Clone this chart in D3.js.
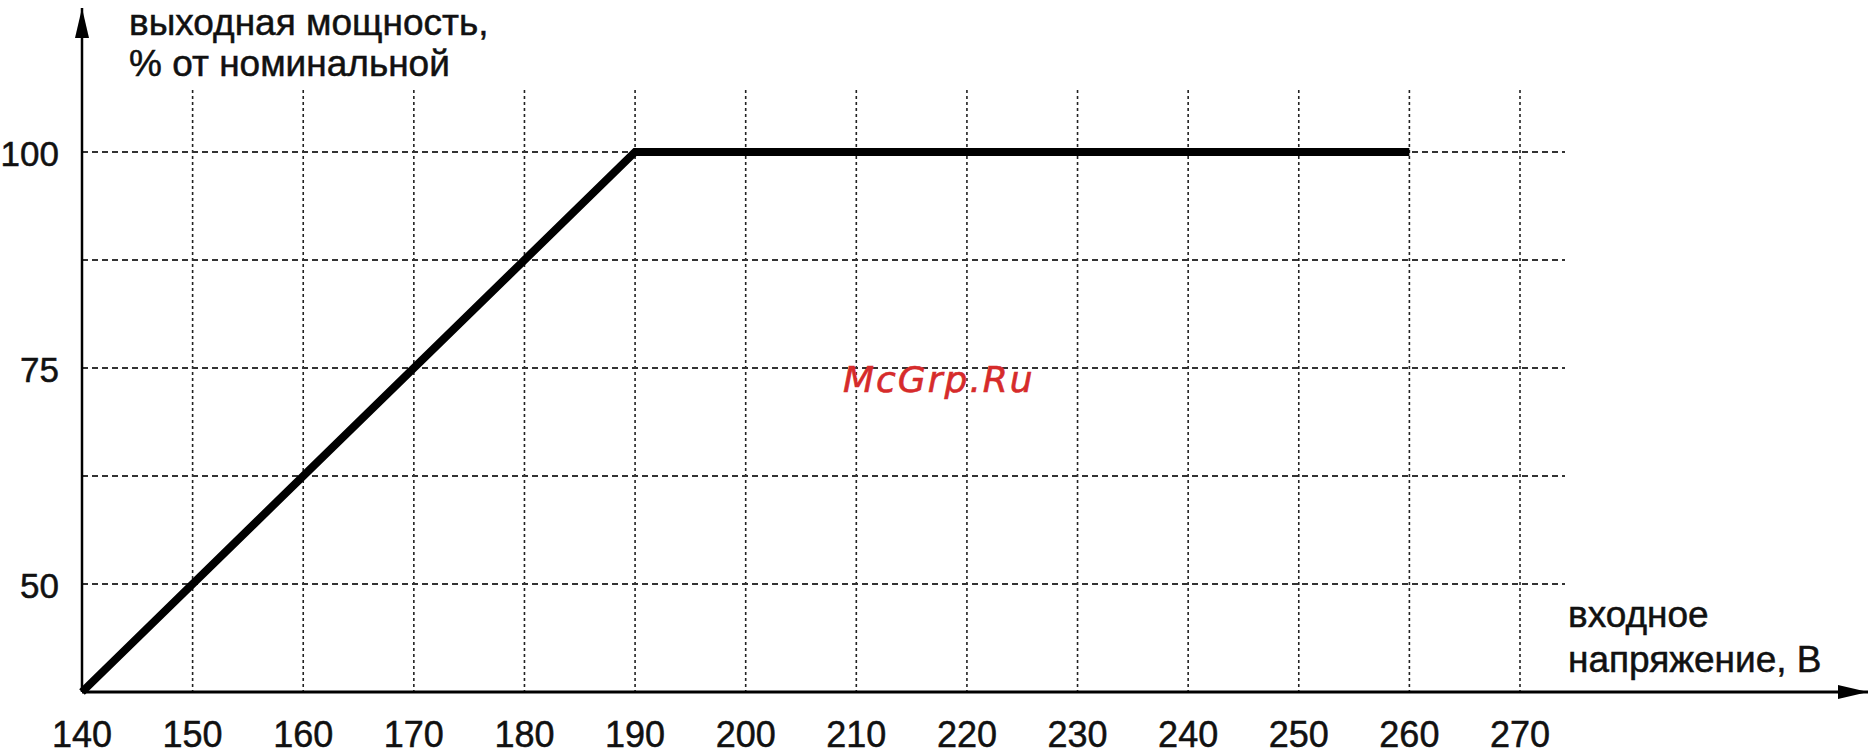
<!DOCTYPE html>
<html>
<head>
<meta charset="utf-8">
<script src="https://cdn.jsdelivr.net/npm/d3@7"></script>
<style>
  body { margin: 0; background: #fff; }
  text { font-family: "Liberation Sans", Arial, sans-serif; fill: #111; stroke: #111; stroke-width: 0.5px; }
</style>
</head>
<body>
<div id="chart"></div>
<script>
// data
const voltage = [140, 190, 260];
const power = [37.5, 100, 100];
const xTicks = [140, 150, 160, 170, 180, 190, 200, 210, 220, 230, 240, 250, 260, 270];
const yGrid = [50, 62.5, 75, 87.5, 100];
const yTicks = [50, 75, 100];
const yTitle = ["выходная мощность,", "% от номинальной"];
const xTitle = ["входное", "напряжение, В"];
const mark = "McGrp.Ru";

const W = 1872, H = 756;

const svg = d3.select("#chart").append("svg")
  .attr("width", W)
  .attr("height", H);

const x = d3.scaleLinear().domain([140, 270]).range([82, 1520]);
const y = d3.scaleLinear().domain([37.5, 100]).range([692, 152]);

const defs = svg.append("defs");
defs.append("marker")
  .attr("id", "arrow")
  .attr("viewBox", "0 0 30 14")
  .attr("refX", 30).attr("refY", 7)
  .attr("markerWidth", 30).attr("markerHeight", 14)
  .attr("markerUnits", "userSpaceOnUse")
  .attr("orient", "auto")
  .append("path")
  .attr("d", "M0,0 L30,7 L0,14 Z")
  .attr("fill", "#000");

// vertical grid
svg.append("g")
  .selectAll("line")
  .data(xTicks.slice(1))
  .join("line")
  .attr("x1", d => x(d)).attr("x2", d => x(d))
  .attr("y1", 90).attr("y2", y(37.5))
  .attr("stroke", "#222")
  .attr("stroke-width", 1.6)
  .attr("stroke-dasharray", "3,3");

// horizontal grid
svg.append("g")
  .selectAll("line")
  .data(yGrid)
  .join("line")
  .attr("x1", x(140)).attr("x2", 1565)
  .attr("y1", d => y(d)).attr("y2", d => y(d))
  .attr("stroke", "#333")
  .attr("stroke-width", 2)
  .attr("stroke-dasharray", "6,4");

// axes with arrows
svg.append("line")
  .attr("x1", x(140)).attr("y1", y(37.5))
  .attr("x2", 1868).attr("y2", y(37.5))
  .attr("stroke", "#000").attr("stroke-width", 3)
  .attr("marker-end", "url(#arrow)");

svg.append("line")
  .attr("x1", x(140)).attr("y1", y(37.5))
  .attr("x2", x(140)).attr("y2", 8)
  .attr("stroke", "#000").attr("stroke-width", 2.5)
  .attr("marker-end", "url(#arrow)");

// tick labels
svg.append("g")
  .selectAll("text")
  .data(xTicks)
  .join("text")
  .attr("x", d => x(d))
  .attr("y", 747)
  .attr("text-anchor", "middle")
  .style("font-size", "36px")
  .text(d => d);

svg.append("g")
  .selectAll("text")
  .data(yTicks)
  .join("text")
  .attr("x", 59)
  .attr("y", d => y(d) + 14)
  .attr("text-anchor", "end")
  .style("font-size", "35px")
  .text(d => d);

// axis titles
svg.append("g")
  .selectAll("text")
  .data(yTitle)
  .join("text")
  .attr("x", 129)
  .attr("y", (d, i) => 35 + i * 41)
  .style("font-size", "37px")
  .text(d => d);

svg.append("g")
  .selectAll("text")
  .data(xTitle)
  .join("text")
  .attr("x", 1568)
  .attr("y", (d, i) => 627 + i * 45)
  .style("font-size", "37px")
  .text(d => d);

// the curve
const line = d3.line()
  .x(d => x(d[0]))
  .y(d => y(d[1]));

svg.append("path")
  .datum(voltage.map((v, i) => [v, power[i]]))
  .attr("d", line)
  .attr("fill", "none")
  .attr("stroke", "#000")
  .attr("stroke-width", 8)
  .attr("stroke-linejoin", "miter");

// watermark
svg.append("text")
  .attr("x", 843)
  .attr("y", 392)
  .style("font-family", "'DejaVu Sans', sans-serif")
  .style("font-style", "italic")
  .style("font-size", "36px")
  .style("letter-spacing", "2px")
  .style("fill", "#d62b2b")
  .style("stroke", "#d62b2b")
  .style("stroke-width", "0.6px")
  .text(mark);
</script>
</body>
</html>
